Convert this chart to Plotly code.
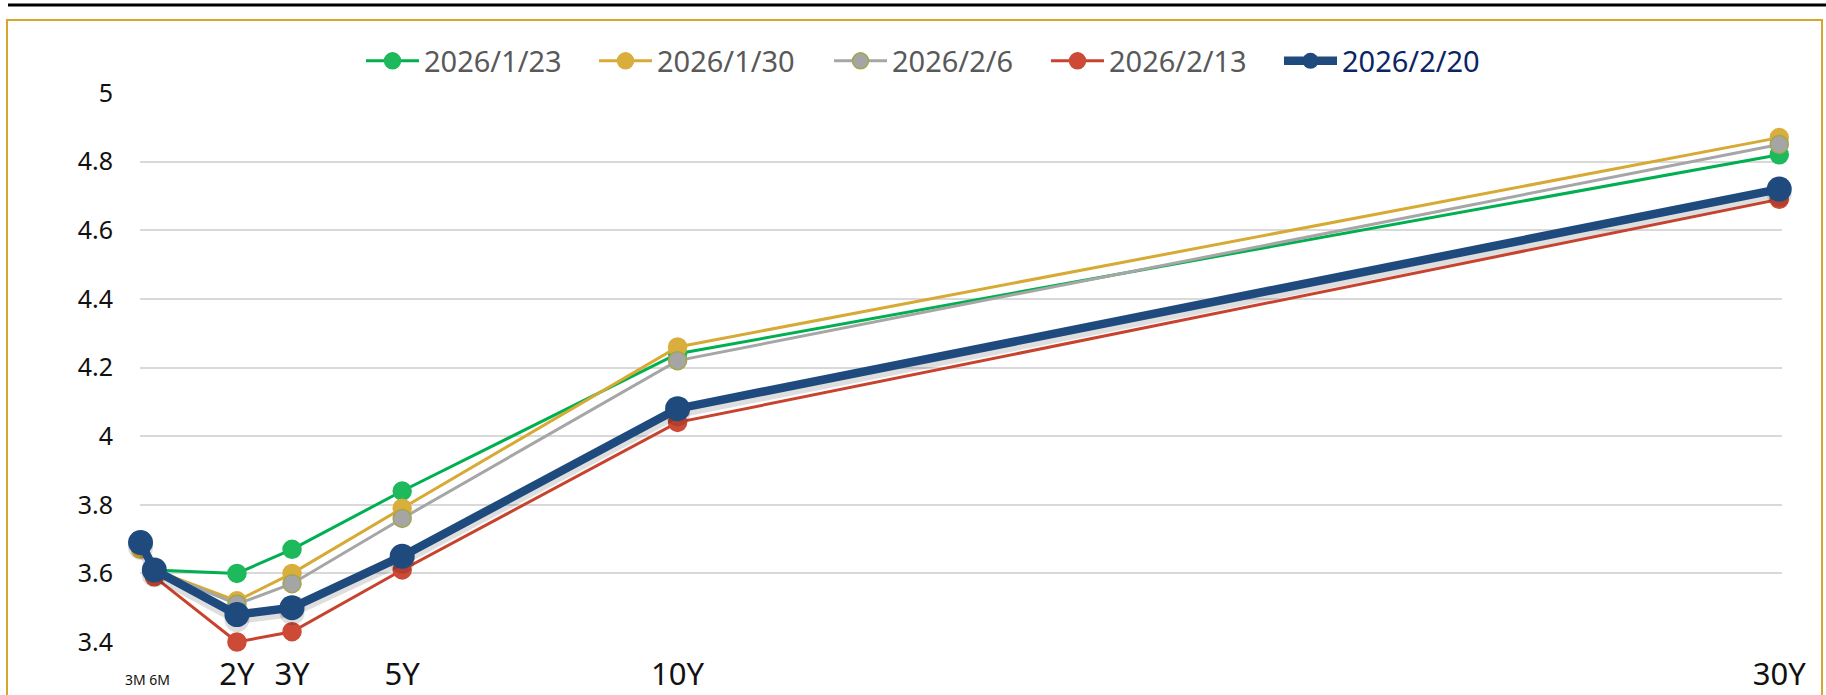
import plotly.graph_objects as go

# ---- data ----
tenors = [0.25, 0.5, 2, 3, 5, 10, 30]
tick_vals = [0.375, 2, 3, 5, 10, 30]
tick_labels = ["3M 6M", "2Y", "3Y", "5Y", "10Y", "30Y"]
y_ticks = [3.4, 3.6, 3.8, 4.0, 4.2, 4.4, 4.6, 4.8, 5.0]
y_tick_labels = ["3.4", "3.6", "3.8", "4", "4.2", "4.4", "4.6", "4.8", "5"]

series_names = ["2026/1/23", "2026/1/30", "2026/2/6", "2026/2/13", "2026/2/20"]
s_0123 = [3.68, 3.61, 3.60, 3.67, 3.84, 4.24, 4.82]
s_0130 = [3.67, 3.61, 3.52, 3.60, 3.79, 4.26, 4.87]
s_0206 = [3.68, 3.61, 3.51, 3.57, 3.76, 4.22, 4.85]
s_0213 = [3.69, 3.59, 3.40, 3.43, 3.61, 4.04, 4.69]
s_0220 = [3.69, 3.61, 3.48, 3.50, 3.65, 4.08, 4.72]

# ---- figure geometry ----
W, H = 1826, 695
ML, MR, MT, MB = 140, 44, 93, 53
PW, PH = W - ML - MR, H - MT - MB
Y_RANGE = [3.4, 5.0]
X_RANGE = [0.24, 30.05]
FONT = "Noto Sans"


def px_x(p):
    return (p - ML) / PW


def px_y(p):
    return (H - MB - p) / PH


styles = [
    dict(line="#00B050", marker="#1DB95A", mline="#1DB95A", lw=3, ms=18),
    dict(line="#D6AA34", marker="#D9AE3C", mline="#D9AE3C", lw=3, ms=18),
    dict(line="#A6A6A6", marker="#A5A5A5", mline="#A3A64C", lw=3, ms=18),
    dict(line="#C8432E", marker="#CC4A36", mline="#CC4A36", lw=3, ms=18),
    dict(line="#1F4A7E", marker="#1F4A7E", mline="#1F4A7E", lw=8.5, ms=25),
]
all_series = [s_0123, s_0130, s_0206, s_0213, s_0220]
legend_ids = ["legend", "legend2", "legend3", "legend4", "legend5"]
legend_left_px = [361, 594, 829, 1046, 1279]

fig = go.Figure()
for i in range(4):
    st = styles[i]
    fig.add_trace(go.Scatter(
        x=tenors, y=all_series[i], name=series_names[i], mode="lines+markers",
        line=dict(color=st["line"], width=st["lw"]),
        marker=dict(color=st["marker"], size=st["ms"],
                    line=dict(color=st["mline"], width=1.5)),
        cliponaxis=False, xaxis="x", yaxis="y", legend=legend_ids[i],
    ))

# soft shadow beneath the latest curve (same data, axis shifted a few px)
shift = 5 * (Y_RANGE[1] - Y_RANGE[0]) / PH
fig.add_trace(go.Scatter(
    x=tenors, y=s_0220, mode="lines+markers", showlegend=False, hoverinfo="skip",
    line=dict(color="rgba(0,0,0,0.13)", width=9),
    marker=dict(color="rgba(0,0,0,0.13)", size=25),
    cliponaxis=False, xaxis="x", yaxis="y2",
))
st = styles[4]
fig.add_trace(go.Scatter(
    x=tenors, y=s_0220,
    name='<span style="color:#0B2463">' + series_names[4] + "</span>",
    mode="lines+markers",
    line=dict(color=st["line"], width=st["lw"]),
    marker=dict(color=st["marker"], size=st["ms"]),
    cliponaxis=False, xaxis="x", yaxis="y3", legend=legend_ids[4],
))

tick_text = [
    ('<span style="font-size:14px">%s</span>' % t) if "M" in t else t
    for t in tick_labels
]

legend_common = dict(
    orientation="h", xanchor="left", y=px_y(61), yanchor="middle",
    font=dict(family=FONT, size=29, color="#595959"),
    bgcolor="rgba(0,0,0,0)", itemwidth=53,
)
legends = {}
for lid, lx in zip(legend_ids, legend_left_px):
    legends[lid] = dict(legend_common, x=px_x(lx))

fig.update_layout(
    width=W, height=H, autosize=False,
    margin=dict(l=ML, r=MR, t=MT, b=MB, pad=0, autoexpand=False),
    paper_bgcolor="white", plot_bgcolor="white",
    font=dict(family=FONT, color="#111111"),
    showlegend=True,
    xaxis=dict(
        range=X_RANGE, tickmode="array", tickvals=tick_vals, ticktext=tick_text,
        showgrid=False, zeroline=False, showline=False, ticks="",
        tickfont=dict(family=FONT, size=31, color="#111111"),
        ticklabelstandoff=11, automargin=False,
    ),
    yaxis=dict(
        range=Y_RANGE, tickmode="array", tickvals=y_ticks, ticktext=y_tick_labels,
        showgrid=True, gridcolor="#D9D9D9", gridwidth=2,
        zeroline=False, showline=False, ticks="",
        tickfont=dict(family=FONT, size=25, color="#111111"),
        ticklabelstandoff=26, automargin=False,
    ),
    yaxis2=dict(range=[Y_RANGE[0] + shift, Y_RANGE[1] + shift], overlaying="y",
                visible=False),
    yaxis3=dict(range=Y_RANGE, overlaying="y", visible=False),
    shapes=[
        dict(type="rect", xref="paper", yref="paper",
             x0=px_x(7), x1=px_x(1822), y0=px_y(720), y1=px_y(20),
             line=dict(color="#D9A52E", width=2), fillcolor="rgba(0,0,0,0)", layer="below"),
        dict(type="line", xref="paper", yref="paper",
             x0=px_x(8), x1=px_x(1830), y0=px_y(5), y1=px_y(5),
             line=dict(color="#000000", width=3)),
    ],
    **legends,
)

fig.write_html(
    "out.html",
    config={"displayModeBar": False, "staticPlot": False},
    post_script="document.body.style.margin='0';document.body.style.padding='0';",
)
